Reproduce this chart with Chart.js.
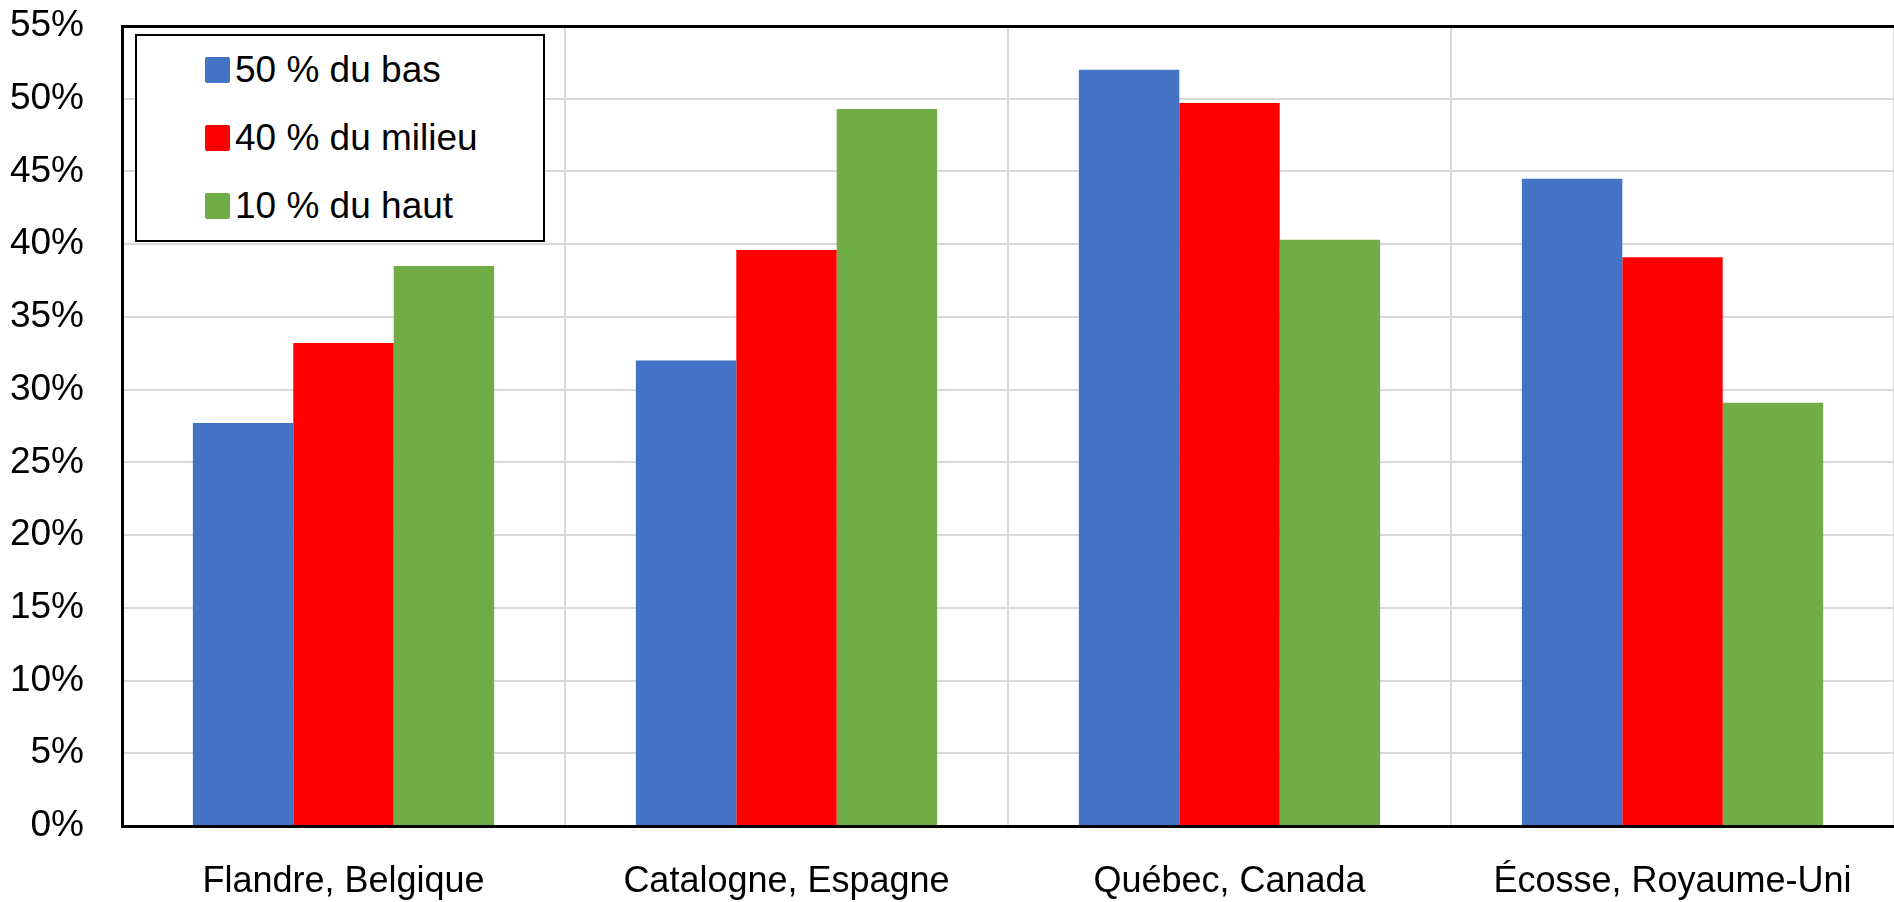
<!DOCTYPE html>
<html>
<head>
<meta charset="utf-8">
<script src="https://cdn.jsdelivr.net/npm/chart.js@4/dist/chart.umd.min.js"></script>
<style>
  html, body { margin: 0; padding: 0; background: #fff; }
  #wrap { position: relative; width: 1894px; height: 902px; overflow: hidden; }
  #legend {
    position: absolute; left: 135px; top: 34px; width: 406px; height: 204px;
    border: 2px solid #000; background: #fff;
    font-family: "Liberation Sans", Arial, sans-serif; font-size: 37px; color: #000;
  }
  #legend .row { height: 68px; display: flex; align-items: center; padding-left: 68px; }
  #legend .sw { width: 25px; height: 26px; margin-right: 5px; border-radius: 2px; }
</style>
</head>
<body>
<div id="wrap">
  <canvas id="myChart" width="1894" height="902"></canvas>
  <div id="legend"></div>
</div>
<script>
// categories and values
let regions = ['Flandre, Belgique', 'Catalogne, Espagne', 'Québec, Canada', 'Écosse, Royaume-Uni'];
let seriesNames = ['50 % du bas', '40 % du milieu', '10 % du haut'];
let bas50 = [27.7, 32.0, 52.0, 44.5];
let milieu40 = [33.2, 39.6, 49.7, 39.1];
let haut10 = [38.5, 49.3, 40.3, 29.1];
let colors = ['#4472C4', '#FF0000', '#70AD47'];
let yTicks = [0, 5, 10, 15, 20, 25, 30, 35, 40, 45, 50, 55];

const font = "'Liberation Sans', Arial, sans-serif";
let values = [bas50, milieu40, haut10];

let datasets = seriesNames.map((name, i) => ({
    label: name,
    data: values[i],
    backgroundColor: colors[i],
    borderWidth: 0,
    categoryPercentage: 0.68,
    barPercentage: 1.0
}));

// legend box in the corner of the plot
let legend = document.getElementById('legend');
seriesNames.forEach((name, i) => {
    let row = document.createElement('div');
    row.className = 'row';
    let sw = document.createElement('div');
    sw.className = 'sw';
    sw.style.background = colors[i];
    row.appendChild(sw);
    row.appendChild(document.createTextNode(name));
    legend.appendChild(row);
});

var myChart = new Chart(document.getElementById('myChart'), {
    type: 'bar',
    data: { labels: regions, datasets: datasets },
    options: {
        responsive: false,
        animation: false,
        devicePixelRatio: 1,
        layout: { padding: { top: 26, right: 0, bottom: 0, left: 0 } },
        plugins: { legend: { display: false }, tooltip: { enabled: false } },
        scales: {
            x: {
                grid: { color: '#d9d9d9', lineWidth: 2, offset: true, drawTicks: false },
                border: { color: '#000', width: 3 },
                ticks: { color: '#000', font: { family: font, size: 36 }, padding: 34, maxRotation: 0 },
                afterFit: s => { s.height = 76; }
            },
            y: {
                min: 0, max: 55,
                afterBuildTicks: s => { s.ticks = yTicks.map(v => ({ value: v })); },
                grid: {
                    // invisible ticks give the gap between labels and axis
                    drawTicks: true,
                    tickLength: 38,
                    tickColor: 'rgba(0,0,0,0)',
                    color: c => c.tick && c.tick.value === 55 ? '#000' : '#d9d9d9',
                    lineWidth: c => c.tick && c.tick.value === 55 ? 3 : 2
                },
                border: { color: '#000', width: 3 },
                ticks: {
                    color: '#000', font: { family: font, size: 37 }, padding: 0,
                    callback: v => v + '%'
                },
                afterFit: s => { s.width = 122; }
            }
        }
    }
});
</script>
</body>
</html>
